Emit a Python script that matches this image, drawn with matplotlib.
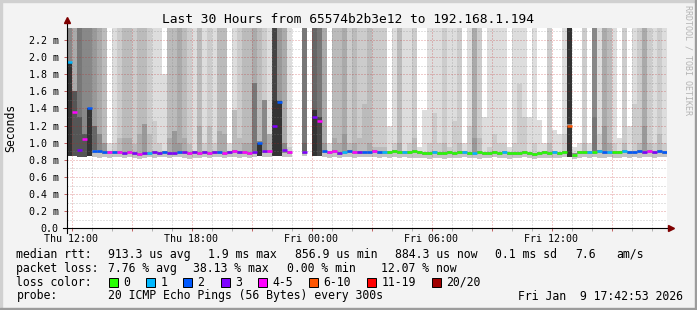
import numpy as np
import matplotlib
matplotlib.use("Agg")
import matplotlib.pyplot as plt
from matplotlib.patches import Rectangle

# 15 minute slots, hours since Thu 00:00
T0 = 11.75
STEP = 0.25

# median rtt per slot (ms), None = no data
med = [1.94, 1.36, 0.92, 1.04, 1.40, 0.90, 0.90, 0.89, 0.89, 0.89,
       0.89, 0.88, 0.89, 0.88, 0.87, 0.88, 0.88, 0.89, 0.88, 0.89,
       0.88, 0.88, 0.89, 0.89, 0.88, 0.89, 0.88, 0.89, 0.88, 0.89,
       0.89, 0.88, 0.89, 0.90, 0.89, 0.89, 0.88, 0.89, 1.00, 0.90,
       0.90, 1.20, 1.48, 0.91, 0.89, None, None, 0.89, None, 1.30,
       1.25, 0.90, 0.89, 0.90, 0.88, 0.89, 0.90, 0.89, 0.89, 0.89,
       0.89, 0.90, 0.89, 0.89, 0.89, 0.90, 0.89, 0.89, 0.89, 0.90,
       0.89, 0.88, 0.88, 0.89, 0.88, 0.88, 0.89, 0.88, 0.89, 0.89,
       0.88, 0.88, 0.89, 0.88, 0.88, 0.89, 0.88, 0.89, 0.88, 0.88,
       0.88, 0.89, 0.88, 0.87, 0.88, 0.89, 0.88, 0.89, 0.88, 0.89,
       1.20, 0.86, 0.89, 0.89, 0.89, 0.89, 0.90, 0.89, 0.89, 0.89,
       0.89, 0.90, 0.89, 0.89, 0.90, 0.89, 0.90, 0.89, 0.90, 0.89]

# lost pings (of 20) per slot
loss = [1, 4, 3, 4, 2, 2, 2, 2, 4, 2,
        4, 3, 4, 3, 4, 3, 1, 3, 3, 2,
        3, 3, 2, 3, 4, 3, 4, 3, 4, 3,
        2, 4, 3, 4, 3, 4, 4, 3, 2, 3,
        4, 3, 2, 3, 4, 0, 0, 3, 0, 3,
        4, 2, 4, 4, 3, 1, 2, 4, 3, 2,
        2, 4, 2, 1, 0, 0, 0, 1, 0, 0,
        0, 0, 0, 1, 0, 0, 0, 0, 0, 1,
        0, 1, 0, 0, 0, 0, 0, 1, 0, 0,
        0, 0, 0, 0, 0, 0, 0, 1, 0, 0,
        7, 0, 0, 0, 1, 0, 1, 2, 1, 0,
        0, 1, 2, 2, 2, 3, 4, 3, 2, 2]

# pings above the top of the graph per slot
n_top = [6, 4, 7, 6, 6, 5, 4, 3, 0, 1,
         2, 3, 3, 2, 3, 3, 2, 1, 1, 0,
         3, 3, 4, 3, 2, 1, 3, 1, 2, 1,
         3, 3, 0, 1, 2, 3, 3, 4, 3, 2,
         1, 10, 5, 4, 1, 0, 0, 7, 0, 8,
         7, 4, 0, 3, 3, 4, 2, 3, 2, 2,
         3, 2, 2, 2, 0, 1, 3, 1, 1, 2,
         0, 0, 1, 1, 1, 2, 1, 1, 2, 0,
         1, 4, 2, 0, 1, 1, 1, 1, 0, 1,
         1, 1, 0, 1, 0, 0, 2, 0, 0, 1,
         11, 0, 0, 2, 0, 6, 1, 4, 3, 1,
         0, 2, 0, 1, 2, 4, 2, 1, 2, 1]

# next smoke layer: height (ms) and pings above it
bar_ms = [1.94, 1.60, 1.30, 1.10, 1.40, 1.20, 1.10, 1.00, 1.00, 1.00,
          1.05, 1.05, 1.05, 0.98, 1.10, 1.22, 1.10, 1.25, 1.00, 1.80,
          1.05, 1.14, 1.00, 1.05, 0.98, 1.00, 1.20, 1.00, 1.20, 1.00,
          1.14, 1.10, 1.00, 1.38, 1.05, 1.00, 1.00, 1.70, 1.00, 1.50,
          1.10, 1.50, 1.49, 1.00, 0.95, None, None, 1.00, None, 1.38,
          1.30, 1.00, 1.00, 1.05, 1.00, 1.10, 1.00, 1.00, 1.05, 1.45,
          1.00, 0.95, 0.95, 0.95, 1.20, 1.00, 1.00, 1.10, 1.00, 1.05,
          0.95, 1.38, 1.00, 1.35, 1.00, 1.00, 0.95, 1.25, 1.00, 1.00,
          1.20, 1.05, 1.05, 1.30, 0.95, 1.10, 1.00, 1.00, 0.95, 1.00,
          1.69, 1.30, 1.30, 1.00, 1.26, 1.00, 1.00, 1.15, 1.10, 1.10,
          1.20, 0.95, 1.00, 1.00, 1.00, 1.30, 1.10, 1.20, 1.00, 1.00,
          1.05, 1.00, 1.20, 1.45, 1.00, 1.20, 1.00, 1.00, 1.10, 1.00]
bar_n = [11, 9, 9, 9, 11, 8, 6, 5, 1, 2,
         3, 4, 4, 3, 4, 5, 3, 2, 2, 1,
         4, 5, 5, 4, 3, 1, 4, 2, 3, 2,
         4, 4, 1, 3, 3, 4, 4, 7, 11, 6,
         4, 11, 11, 6, 2, 0, 0, 8, 0, 11,
         10, 5, 1, 4, 4, 5, 3, 4, 3, 3,
         4, 3, 3, 3, 1, 2, 4, 1, 2, 3,
         1, 1, 2, 2, 2, 3, 2, 2, 3, 1,
         2, 5, 3, 1, 2, 2, 2, 2, 1, 2,
         2, 2, 1, 2, 1, 1, 3, 1, 1, 2,
         11, 1, 1, 3, 1, 7, 2, 5, 4, 2,
         1, 3, 1, 2, 3, 5, 3, 2, 3, 2]

# fastest ping per slot (ms)
lo_ms = [0.84, 0.84, 0.83, 0.83, 0.84, 0.83, 0.82, 0.83, 0.82, 0.83,
         0.83, 0.82, 0.83, 0.82, 0.81, 0.82, 0.83, 0.82, 0.83, 0.83,
         0.82, 0.83, 0.83, 0.82, 0.81, 0.82, 0.82, 0.83, 0.82, 0.83,
         0.83, 0.82, 0.83, 0.83, 0.82, 0.83, 0.82, 0.83, 0.84, 0.83,
         0.83, 0.84, 0.84, 0.83, 0.83, None, None, 0.84, None, 0.84,
         0.84, 0.83, 0.82, 0.83, 0.82, 0.83, 0.83, 0.82, 0.83, 0.83,
         0.83, 0.83, 0.82, 0.83, 0.82, 0.83, 0.82, 0.83, 0.82, 0.82,
         0.82, 0.82, 0.81, 0.82, 0.82, 0.81, 0.82, 0.82, 0.82, 0.83,
         0.82, 0.82, 0.81, 0.82, 0.82, 0.83, 0.82, 0.82, 0.81, 0.82,
         0.82, 0.83, 0.82, 0.81, 0.82, 0.82, 0.82, 0.82, 0.82, 0.83,
         0.83, 0.81, 0.82, 0.83, 0.82, 0.83, 0.82, 0.82, 0.83, 0.82,
         0.82, 0.83, 0.82, 0.83, 0.82, 0.83, 0.83, 0.82, 0.83, 0.83]

LOSS_LABELS = ["0", "1", "2", "3", "4-5", "6-10", "11-19", "20/20"]
LOSS_COLORS = ["#26ff00", "#00b8ff", "#0059ff", "#7e00ff", "#ff00ff",
               "#ff5500", "#ff0000", "#a00000"]
LOSS_EDGES = [0, 1, 2, 3, 4, 6, 11, 20]

XTICK_HOURS = [12, 18, 24, 30, 36]
XTICK_LABELS = ["Thu 12:00", "Thu 18:00", "Fri 00:00", "Fri 06:00", "Fri 12:00"]
YTICKS = [0.0, 0.2, 0.4, 0.6, 0.8, 1.0, 1.2, 1.4, 1.6, 1.8, 2.0, 2.2]
YTICK_LABELS = ["0.0", "0.2 m", "0.4 m", "0.6 m", "0.8 m", "1.0 m", "1.2 m",
                "1.4 m", "1.6 m", "1.8 m", "2.0 m", "2.2 m"]

TITLE = "Last 30 Hours from 65574b2b3e12 to 192.168.1.194"
RTT_STATS = ["913.3 us avg", "1.9 ms max", "856.9 us min", "884.3 us now",
             "0.1 ms sd", "7.6", "am/s"]
LOSS_STATS = ["7.76 % avg", "38.13 % max", "0.00 % min", "12.07 % now"]
PROBE = "20 ICMP Echo Pings (56 Bytes) every 300s"
STAMP = "Fri Jan  9 17:42:53 2026"

W, H = 697, 310
MONO = "DejaVu Sans Mono"
plt.rcParams["font.family"] = MONO

SHADES = ["#ffffff", "#dddddd", "#cccccc", "#bbbbbb", "#aaaaaa", "#999999",
          "#888888", "#777777", "#666666", "#555555", "#444444", "#333333"]


def shade(n):
    return SHADES[min(int(n), 11)]


def loss_color(n):
    k = 0
    for j, e in enumerate(LOSS_EDGES):
        if n >= e:
            k = j
    return LOSS_COLORS[k]


def fx(x):
    return x / W


def fy(y):
    return 1 - y / H


med = np.array(med, dtype=float)
lo = np.array(lo_ms, dtype=float)
bar_ms = np.array(bar_ms, dtype=float)
bar_n = np.array(bar_n)
n_top = np.array(n_top)
t = T0 + STEP * np.arange(len(med))
ok = ~np.isnan(med)

fig = plt.figure(figsize=(W / 100, H / 100), dpi=100, facecolor="#f3f3f3")
ax = fig.add_axes([fx(66.5), fy(228.3), 600 / W, 200.3 / H])
ax.set_xlim(T0, T0 + 30)
ax.set_ylim(0, 2.34)
for s in ax.spines.values():
    s.set_visible(False)

kw = dict(width=STEP, align="edge", linewidth=0, antialiased=False)

# smoke: pings above the top
m1 = ok & (n_top > 0)
ax.bar(t[m1], 2.5 - lo[m1], bottom=lo[m1], color=[shade(v) for v in n_top[m1]],
       zorder=1, **kw)
# smoke below the median
ax.bar(t[ok], med[ok] - lo[ok], bottom=lo[ok], color="#c4c4c4", zorder=1.1, **kw)
ax.bar(t[ok], 0.04, bottom=med[ok] - 0.025, color="#8a8a8a", zorder=1.2, **kw)
# next smoke layer
bb = np.where(bar_n >= 9, lo, med + 0.015)
m2 = ok & (bar_ms > bb)
ax.bar(t[m2], bar_ms[m2] - bb[m2], bottom=bb[m2],
       color=[shade(v) for v in bar_n[m2]], zorder=1.3, **kw)

# grid on top of the smoke
MAJ = (0.75, 0.12, 0.12, 0.45)
MIN = (0.5, 0.5, 0.5, 0.45)
for h in range(12, 42):
    ax.axvline(h, color=MAJ if h % 3 == 0 else MIN, lw=0.72,
               ls=(0, (1, 2)), zorder=3)
for k in range(1, 24):
    ax.axhline(k / 10, color=MAJ if k % 2 == 0 else MIN, lw=0.72,
               ls=(0, (1, 2)), zorder=3)

# median line coloured by loss
ax.hlines(med[ok], t[ok], t[ok] + STEP,
          colors=[loss_color(v) for v in np.array(loss)[ok]], lw=1.8, zorder=4)

# axes with arrows
ax.plot([T0 - 0.2, T0 + 30.1], [0, 0], color="black", lw=0.8, clip_on=False, zorder=5)
ax.plot([T0 + 30.2], [0], marker=">", color="#7f0000", ms=4, clip_on=False, zorder=5)
ax.plot([T0, T0], [-0.05, 2.4], color="black", lw=0.8, clip_on=False, zorder=5)
ax.plot([T0], [2.43], marker="^", color="#7f0000", ms=4, clip_on=False, zorder=5)

ax.set_xticks(range(12, 42, 3))
ax.set_xticklabels([XTICK_LABELS[XTICK_HOURS.index(h)] if h in XTICK_HOURS else ""
                    for h in range(12, 42, 3)])
ax.set_xticks(range(12, 42), minor=True)
ax.tick_params(axis="x", which="major", length=2.5, width=0.7, color="#c06060",
               pad=1.5, labelsize=7.2)
ax.tick_params(axis="x", which="minor", length=2, width=0.7, color="#b0b0b0")
ax.set_yticks(YTICKS)
ax.set_yticklabels(YTICK_LABELS)
ax.tick_params(axis="y", length=2.5, width=0.7, color="#c06060", pad=3, labelsize=7.2)

# texts
fig.text(fx(348), fy(19.5), TITLE, ha="center", va="center", fontsize=9.3)
fig.text(fx(11), fy(128), "Seconds", rotation=90, ha="center", va="center", fontsize=8.3)
fig.text(fx(688), fy(60), "RRDTOOL / TOBI OETIKER", rotation=270, ha="center",
         va="center", fontsize=6, color="#b4b4b4")

LEG = dict(ha="left", va="center", fontsize=8.3)
rows = [254.3, 268.3, 282.3, 296.0]
fig.text(fx(16.5), fy(rows[0]), "median rtt:", **LEG)
for s, x in zip(RTT_STATS, [108, 208, 294.6, 394.6, 494.6, 575, 616.5]):
    fig.text(fx(x), fy(rows[0]), s, **LEG)
fig.text(fx(16.5), fy(rows[1]), "packet loss:", **LEG)
for s, x in zip(LOSS_STATS, [108, 193, 286.6, 380.8]):
    fig.text(fx(x), fy(rows[1]), s, **LEG)
fig.text(fx(16.5), fy(rows[2]), "loss color:", **LEG)
box_x = [108.5, 146, 183, 220.5, 257.6, 309, 367.4, 432]
for lab, col, x in zip(LOSS_LABELS, LOSS_COLORS, box_x):
    fig.patches.append(Rectangle((fx(x), fy(rows[2] + 4.5)), 9 / W, 9 / H,
                                 transform=fig.transFigure, facecolor=col,
                                 edgecolor="black", lw=0.7))
    fig.text(fx(x + 14.5), fy(rows[2]), lab, **LEG)
fig.text(fx(16.5), fy(rows[3]), "probe:", **LEG)
fig.text(fx(108), fy(rows[3]), PROBE, **LEG)
fig.text(fx(683), fy(rows[3]), STAMP, ha="right", va="center", fontsize=8.3)

# frame
fig.patches.append(Rectangle((0, 1 - 2 / H), 1, 2 / H, transform=fig.transFigure,
                             color="#d0d0d0"))
fig.patches.append(Rectangle((0, 0), 2 / W, 1, transform=fig.transFigure,
                             color="#d0d0d0"))
fig.patches.append(Rectangle((0, 0), 1, 2 / H, transform=fig.transFigure,
                             color="#9c9c9c"))
fig.patches.append(Rectangle((1 - 2 / W, 0), 2 / W, 1, transform=fig.transFigure,
                             color="#9c9c9c"))

fig.savefig("out.png", dpi=100, facecolor=fig.get_facecolor())
